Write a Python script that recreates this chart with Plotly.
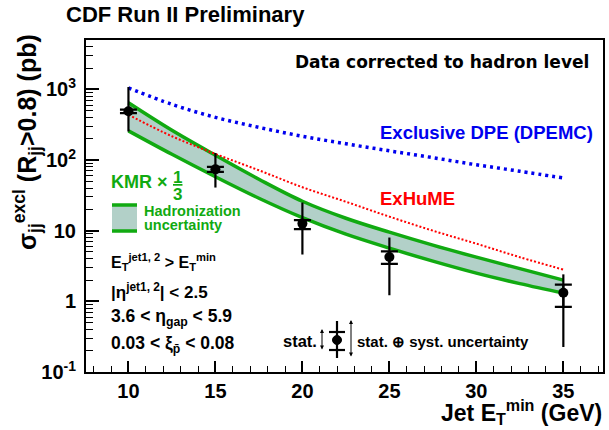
import plotly.graph_objects as go

# ---------------- data ----------------
et_min = [10, 15, 20, 25, 35]
sigma = [490, 73.8, 12.6, 4.25, 1.32]
stat_hi = [516, 79.8, 14.1, 5.1, 1.73]
stat_lo = [460, 67.8, 10.5, 3.4, 0.835]
tot_hi = [1080, 126, 25.0, 8.0, 2.41]
tot_lo = [253, 40.8, 4.6, 1.22, 0.226]

curve_x = [10, 12.5, 15, 17.5, 20, 22.5, 25, 27.5, 30, 32.5, 35]
kmr_upper = [645, 263, 116.7, 53.5, 26.1, 15.0, 9.52, 6.24, 4.22, 2.90, 2.0]
kmr_lower = [259, 120.6, 58.0, 28.8, 15.3, 8.92, 5.66, 3.71, 2.51, 1.78, 1.31]
exhume = [437, 217, 122, 71.6, 41.2, 25.7, 15.8, 10.0, 6.55, 4.22, 2.81]
dpemc = [1050, 614, 402, 290, 217, 170, 135, 108, 85.7, 69.4, 55.7]

x_ticks = [10, 15, 20, 25, 30, 35]
y_ticks = [0.1, 1, 10, 100, 1000]
y_ticktext = ["10<sup>-1</sup>", "1", "10", "10<sup>2</sup>", "10<sup>3</sup>"]

GREEN = "#11aa11"
BAND = "#b2d0c8"
FONT = "Liberation Sans"

# ---------------- geometry helpers ----------------
W, H = 609, 430
L, R, T, B = 86, 603, 40, 372


def px(x):
    return (x - L) / (R - L)


def py(y):
    return (B - y) / (B - T)


fig = go.Figure()

# KMR band
fig.add_trace(go.Scatter(x=curve_x, y=kmr_upper, mode="lines",
                         line=dict(color=GREEN, width=3.5, shape="spline"),
                         showlegend=False, hoverinfo="skip"))
fig.add_trace(go.Scatter(x=curve_x, y=kmr_lower, mode="lines", fill="tonexty",
                         fillcolor=BAND,
                         line=dict(color=GREEN, width=3.5, shape="spline"),
                         showlegend=False, hoverinfo="skip"))
# ExHuME
fig.add_trace(go.Scatter(x=curve_x, y=exhume, mode="lines",
                         line=dict(color="#ff0000", width=2, dash="2px,2px", shape="spline"),
                         showlegend=False, hoverinfo="skip"))
# DPEMC
fig.add_trace(go.Scatter(x=curve_x, y=dpemc, mode="lines",
                         line=dict(color="#0000ee", width=3.5, dash="3px,4px", shape="spline"),
                         showlegend=False, hoverinfo="skip"))

# total uncertainty
fig.add_trace(go.Scatter(
    x=et_min, y=sigma, mode="markers",
    marker=dict(size=1, color="black"),
    error_y=dict(type="data", symmetric=False,
                 array=[h - s for h, s in zip(tot_hi, sigma)],
                 arrayminus=[s - l for l, s in zip(tot_lo, sigma)],
                 color="black", thickness=2.2, width=0),
    showlegend=False, hoverinfo="skip"))
# stat uncertainty
fig.add_trace(go.Scatter(
    x=et_min, y=sigma, mode="markers",
    marker=dict(size=10, color="black", symbol="circle"),
    error_y=dict(type="data", symmetric=False,
                 array=[h - s for h, s in zip(stat_hi, sigma)],
                 arrayminus=[s - l for l, s in zip(stat_lo, sigma)],
                 color="black", thickness=2.2, width=8.5),
    showlegend=False, hoverinfo="skip"))

annotations = []


def txt(text, x, y, size, color="black", xanchor="left", family=FONT, **kw):
    annotations.append(dict(text=text, x=px(x), y=py(y), xref="paper", yref="paper",
                            xanchor=xanchor, yanchor="middle", showarrow=False,
                            borderpad=0,
                            font=dict(family=family, size=size, color=color, weight="bold"),
                            **kw))


txt("CDF Run II Preliminary", 65, 15, 22)
txt("Data corrected to hadron level", 294, 62, 17, family="DejaVu Sans")
txt("Exclusive DPE (DPEMC)", 379, 132, 18.5, color="#0000ee")
txt("ExHuME", 379, 198, 18.5, color="#ff0000")
txt("KMR \u00d7", 110, 182, 18, color=GREEN)
txt("<u>1</u>", 177, 177, 17, color=GREEN, xanchor="center")
txt("3", 177, 194, 17, color=GREEN, xanchor="center")
txt("Hadronization", 143, 211, 14.5, color=GREEN)
txt("uncertainty", 143, 225, 14.5, color=GREEN)
txt("E<sub>T</sub><sup>jet1, 2</sup> > E<sub>T</sub><sup>min</sup>", 110, 262, 16)
txt("|\u03b7<sup>jet1, 2</sup>| < 2.5", 110, 291, 17)
txt("3.6 < \u03b7<sub>gap</sub> < 5.9", 110, 317, 17.5)
txt("0.03 < \u03be<sub>p\u0304</sub> < 0.08", 110, 344, 17.5)
txt("stat.", 282, 341, 16.5)
txt("stat. \u2295 syst. uncertainty", 356, 341, 15)
txt("Jet E<sub>T</sub><sup>min</sup> (GeV)", 603, 412, 23, xanchor="right")
# y-axis title
annotations.append(dict(text="\u03c3<sub>jj</sub><sup>excl</sup> (R<sub>jj</sub>>0.8) (pb)",
                        x=px(27), y=py(142), xref="paper", yref="paper",
                        xanchor="center", yanchor="middle", showarrow=False, textangle=-90,
                        font=dict(family=FONT, size=25, color="black", weight="bold")))

# legend arrows
for xa, y0, y1 in [(322, 329, 351), (351, 320, 358)]:
    annotations.append(dict(x=px(xa), y=py(y0), xref="paper", yref="paper",
                            ax=0, ay=y1 - y0, axref="pixel", ayref="pixel",
                            text="", showarrow=True, arrowhead=2, arrowside="end+start",
                            arrowsize=0.8, arrowwidth=1, arrowcolor="black", standoff=0,
                            startstandoff=0))

shapes = []
# legend swatch for band
shapes.append(dict(type="rect", xref="paper", yref="paper",
                   x0=px(112), x1=px(137), y0=py(205), y1=py(231),
                   fillcolor=BAND, line=dict(width=0), layer="above"))
for yy in (205, 231):
    shapes.append(dict(type="line", xref="paper", yref="paper",
                       x0=px(112), x1=px(137), y0=py(yy), y1=py(yy),
                       line=dict(color=GREEN, width=3.5), layer="above"))
# legend data-point icon
shapes.append(dict(type="line", xref="paper", yref="paper",
                   x0=px(337), x1=px(337), y0=py(321), y1=py(358),
                   line=dict(color="black", width=2.2), layer="above"))
for yy in (332, 350):
    shapes.append(dict(type="line", xref="paper", yref="paper",
                       x0=px(329), x1=px(345), y0=py(yy), y1=py(yy),
                       line=dict(color="black", width=2.2), layer="above"))
shapes.append(dict(type="circle", xref="paper", yref="paper",
                   x0=px(332.5), x1=px(341.5), y0=py(335.5), y1=py(344.5),
                   fillcolor="black", line=dict(color="black", width=1), layer="above"))

minor_y = [m * 10 ** e for e in range(-1, 4) for m in range(2, 10)]

fig.update_layout(
    width=W, height=H,
    margin=dict(l=L, r=W - R, t=T, b=H - B, pad=0, autoexpand=False),
    paper_bgcolor="white", plot_bgcolor="white",
    showlegend=False,
    annotations=annotations,
    shapes=shapes,
    xaxis=dict(range=[7.56, 37.28], tickmode="array", tickvals=x_ticks,
               automargin=False,
               ticks="inside", ticklen=11, tickwidth=1.5, tickcolor="black",
               minor=dict(ticks="inside", ticklen=6, tickwidth=1.2, dtick=1, tick0=0,
                          tickcolor="black", showgrid=False),
               showgrid=False, zeroline=False,
               showline=True, linecolor="black", linewidth=2, mirror=True,
               tickfont=dict(family=FONT, size=20, color="black", weight="bold")),
    yaxis=dict(type="log", range=[-1, 3.699], tickmode="array", tickvals=y_ticks,
               ticktext=y_ticktext, automargin=False,
               ticks="inside", ticklen=13, tickwidth=1.5, tickcolor="black",
               minor=dict(ticks="inside", ticklen=7, tickwidth=1.2, tickvals=minor_y,
                          tickcolor="black", showgrid=False),
               showgrid=False, zeroline=False,
               showline=True, linecolor="black", linewidth=2, mirror=True,
               ticklabelstandoff=4,
               tickfont=dict(family=FONT, size=20, color="black", weight="bold")),
)

fig.write_html("out.html", config={"displayModeBar": False},
               post_script="document.body.style.margin='0';document.body.style.padding='0';")
